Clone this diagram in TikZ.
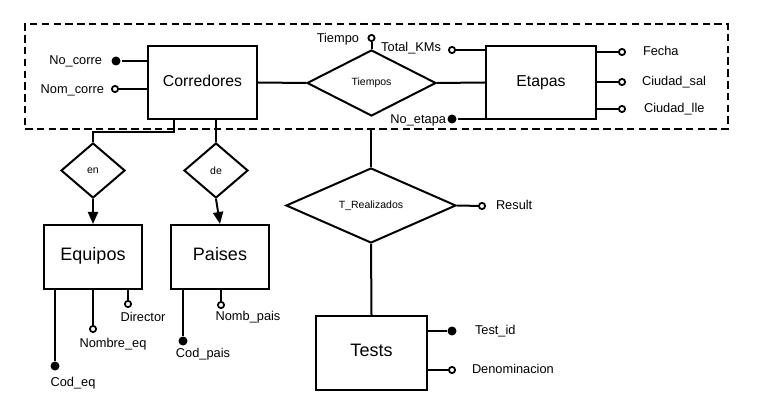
\documentclass[tikz,border=0pt]{standalone}
\usepackage{fontspec}
\setmainfont{Liberation Sans}
\usetikzlibrary{shapes.geometric,arrows.meta}
\begin{document}
\begin{tikzpicture}[x=1pt,y=-1pt,line width=2pt,
  ent/.style={draw,rectangle,inner sep=0pt,text height=0.72em,text depth=0pt},
  entA/.style={ent,font=\fontsize{15.8}{18}\selectfont},
  entB/.style={ent,font=\fontsize{18}{21}\selectfont},
  rel/.style={draw,diamond,inner sep=0pt,font=\fontsize{10.5}{12}\selectfont},
  lbl/.style={inner sep=0pt,text height=0.72em,text depth=0pt,font=\fontsize{12.8}{15}\selectfont},
  keyattr/.style={circle,fill=black,draw=none,inner sep=0pt,minimum size=9pt},
  attr/.style={circle,fill=white,draw,line width=1.8pt,inner sep=0pt,minimum size=6.2pt},
  arr/.style={-{Triangle[length=12pt,width=10pt]}}]
\useasboundingbox (0,0) rectangle (757,411);
% aggregation box
\node[draw,dash pattern=on 7.5pt off 4.3pt,line width=1.8pt,inner sep=0pt,minimum width=703pt,minimum height=105pt] (agg) at (376.5,76.5) {};
% entities
\node[entA,minimum width=109pt,minimum height=73pt] (corr) at (202.5,82.5) {Corredores};
\node[entA,minimum width=110pt,minimum height=73pt] (etapas) at (541,82.5) {Etapas};
\node[entB,minimum width=98pt,minimum height=64pt] (equipos) at (93,257) {Equipos};
\node[entB,minimum width=98pt,minimum height=64pt] (paises) at (220,257) {Paises};
\node[entB,minimum width=111pt,minimum height=74pt] (tests) at (371.5,353) {Tests};
% relationships
\node[rel,minimum width=129pt,minimum height=66pt] (tiempos) at (371.5,83) {Tiempos};
\node[rel,minimum width=64pt,minimum height=55pt] (en) at (93,170.5) {en};
\node[rel,minimum width=64pt,minimum height=55pt] (de) at (216,170.5) {de};
\node[rel,minimum width=170pt,minimum height=75pt] (trel) at (371,205.5) {T\_Realizados};
% relationship connectors
\draw (corr.east) -- (tiempos.west);
\draw (tiempos.east) -- (etapas.west);
\coordinate (c1) at (174,119);
\draw (c1) -- ++(0,13) -| (en.north);
\draw[arr] (en.south) -- (equipos.north);
\draw (corr.south -| de.north) -- (de.north);
\draw[arr] (de.south) -- (paises.north);
\draw (agg.south -| trel.north) -- (trel.north);
\draw (trel.south) -- (tests.north);
% Corredores attributes
\node[keyattr] (nocorre) at (116,61) {};
\node[lbl,anchor=east] (tnocorre) at (103,61) {No\_corre};
\draw (nocorre) -- (nocorre -| corr.west);
\node[attr] (nomcorre) at (115,89) {};
\node[lbl,anchor=east] (tnomcorre) at (105,89.5) {Nom\_corre};
\draw (nomcorre) -- (nomcorre -| corr.west);
% Tiempos attribute
\node[attr] (tiempo) at (371.5,38) {};
\node[lbl,anchor=east] (ttiempo) at (360,39) {Tiempo};
\draw (tiempo) -- (tiempos.north);
% Etapas attributes
\node[attr] (totkm) at (452,50) {};
\node[lbl,anchor=east] (ttotkm) at (442,48) {Total\_KMs};
\draw (totkm) -- (totkm -| etapas.west);
\node[keyattr] (noetapa) at (452,119) {};
\node[lbl,anchor=east] (tnoetapa) at (447,120) {No\_etapa};
\draw (noetapa) -- (noetapa -| etapas.west);
\node[attr] (fecha) at (622,52) {};
\node[lbl,anchor=west] (tfecha) at (642,52) {Fecha};
\draw (fecha) -- (fecha -| etapas.east);
\node[attr] (csal) at (622,82) {};
\node[lbl,anchor=west] (tcsal) at (641,82) {Ciudad\_sal};
\draw (csal) -- (csal -| etapas.east);
\node[attr] (clle) at (622,109) {};
\node[lbl,anchor=west] (tclle) at (643,109) {Ciudad\_lle};
\draw (clle) -- (clle -| etapas.east);
% Equipos attributes
\node[keyattr] (codeq) at (55,366) {};
\node[lbl] (tcodeq) at (73,383) {Cod\_eq};
\draw (codeq) -- (codeq |- equipos.south);
\node[attr] (nombeq) at (93,329) {};
\node[lbl] (tnombeq) at (113,344) {Nombre\_eq};
\draw (nombeq) -- (nombeq |- equipos.south);
\node[attr] (director) at (128,304) {};
\node[lbl] (tdirector) at (143,318) {Director};
\draw (director) -- (director |- equipos.south);
% Paises attributes
\node[keyattr] (codpais) at (183,341) {};
\node[lbl] (tcodpais) at (203,354) {Cod\_pais};
\draw (codpais) -- (codpais |- paises.south);
\node[attr] (nombpais) at (221,305) {};
\node[lbl] (tnombpais) at (248,317) {Nomb\_pais};
\draw (nombpais) -- (nombpais |- paises.south);
% T_Realizados attribute
\node[attr] (result) at (482,206) {};
\node[lbl,anchor=west] (tresult) at (495,206) {Result};
\draw (trel.east) -- (result);
% Tests attributes
\node[keyattr] (testid) at (452,331) {};
\node[lbl,anchor=west] (ttestid) at (474,331) {Test\_id};
\draw (testid) -- (testid -| tests.east);
\node[attr] (denom) at (452,370) {};
\node[lbl,anchor=west] (tdenom) at (471,370) {Denominacion};
\draw (denom) -- (denom -| tests.east);
\end{tikzpicture}
\end{document}
